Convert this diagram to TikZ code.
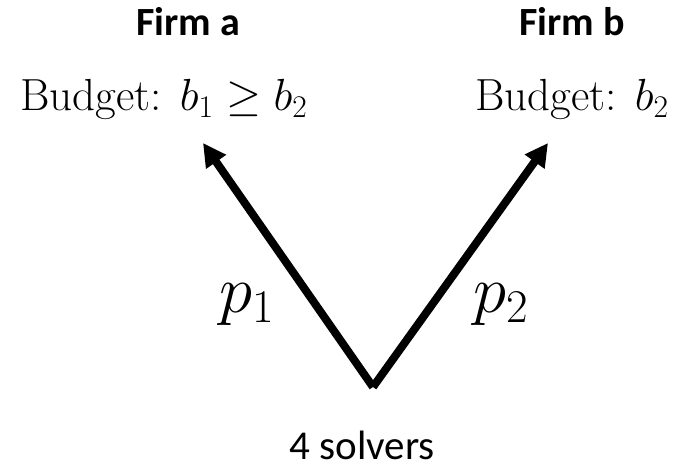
\RequirePackage{fix-cm}
\documentclass[tikz,border=0pt]{standalone}
\usepackage{fontspec}
\newfontfamily\calibri{Carlito}
\usetikzlibrary{arrows.meta}
\tikzset{
    firm label/.style={
        inner sep=0pt,anchor=base,
        font=\calibri\bfseries\fontsize{40}{48}\selectfont
    },
    budget label/.style={
        inner sep=0pt,anchor=base west,
        font=\fontsize{45}{54}\selectfont
    },
    price label/.style={
        inner sep=0pt,anchor=base west,
        font=\fontsize{67}{80}\selectfont
    },
    solver label/.style={
        inner sep=0pt,anchor=base,text depth=0pt,
        font=\calibri\fontsize{41}{49}\selectfont
    },
    offer/.style={line width=8pt,->},
    >={Triangle[length=23pt,width=23pt]}
}

\begin{document}
\begin{tikzpicture}[x=1pt,y=-1pt]
\useasboundingbox (0,0) rectangle (685,465);
% firms and their budgets
\node[firm label] (firm_a) at (188,36) {Firm a};
\node[firm label] (firm_b) at (572,36) {Firm b};
\node[budget label] (budget_a) at (20,111) {Budget: $b_1\geq b_2$};
\node[budget label] (budget_b) at (475,111) {Budget: $b_2$};
% solvers
\coordinate (solvers) at (373,387);
\coordinate (tip_a) at (203,143);
\coordinate (tip_b) at (548,143);
\node[solver label] (solver_txt) at (362,459) {4 solvers};
\draw[offer] (solvers) -- (tip_a);
\draw[offer] (solvers) -- (tip_b);
\node[price label] (price_a) at (219,312) {$p_1$};
\node[price label] (price_b) at (473,312) {$p_2$};
\end{tikzpicture}
\end{document}
